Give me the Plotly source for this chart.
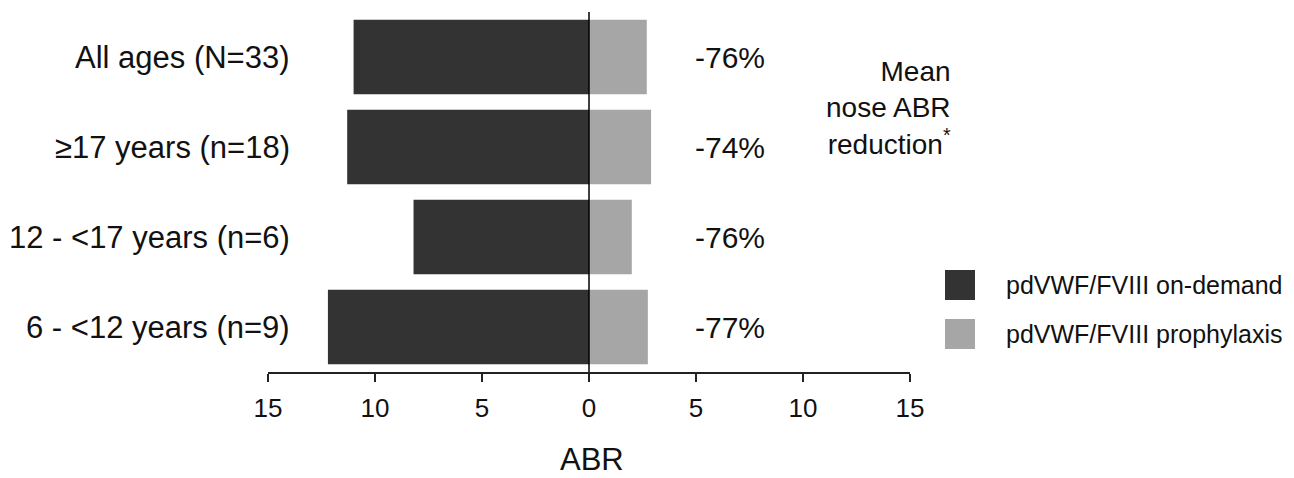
import plotly.graph_objects as go

categories = ["All ages (N=33)", "≥17 years (n=18)", "12 - <17 years (n=6)", "6 - <12 years (n=9)"]
on_demand = [11.0, 11.3, 8.2, 12.2]
prophylaxis = [2.7, 2.9, 2.0, 2.75]
reduction = ["-76%", "-74%", "-76%", "-77%"]
tick_vals = [-15, -10, -5, 0, 5, 10, 15]
tick_text = ["15", "10", "5", "0", "5", "10", "15"]
series_names = ["pdVWF/FVIII on-demand", "pdVWF/FVIII prophylaxis"]
colors = ["#333333", "#a6a6a6"]

FONT = "Arial, Liberation Sans, sans-serif"
TXT = "#111111"
cats_bu = categories[::-1]

# plot area in page pixels: x 268..910, y 12..372
PX0, PX1, PY0, PY1 = 268, 910, 12, 372
def px(xp):
    return (xp - PX0) / (PX1 - PX0)
def py(yp):
    return (PY1 - yp) / (PY1 - PY0)

fig = go.Figure()
fig.add_trace(go.Bar(y=cats_bu, x=[-v for v in on_demand[::-1]], orientation="h",
                     marker=dict(color=colors[0], line=dict(width=0)), name=series_names[0],
                     showlegend=False))
fig.add_trace(go.Bar(y=cats_bu, x=prophylaxis[::-1], orientation="h",
                     marker=dict(color=colors[1], line=dict(width=0)), name=series_names[1],
                     showlegend=False))

# category labels (they overlap into the plot area, so annotations)
for c in categories:
    fig.add_annotation(x=px(292), y=c, xref="paper", yref="y", text=c, showarrow=False,
                       xanchor="right", yanchor="middle",
                       font=dict(size=31, color=TXT, family=FONT))

# percentage labels
for c, r in zip(categories, reduction):
    fig.add_annotation(x=6.6, y=c, xref="x", yref="y", text=r, showarrow=False,
                       font=dict(size=30, color=TXT, family=FONT), xanchor="center")

# header text
fig.add_annotation(xref="paper", yref="paper", x=px(953), y=py(108),
                   text="Mean<br>nose ABR<br>reduction<sup>*</sup>", showarrow=False,
                   align="right", xanchor="right", yanchor="middle",
                   font=dict(size=28, color=TXT, family=FONT))

# axis title
fig.add_annotation(xref="paper", yref="paper", x=px(592), y=py(459), text="ABR",
                   showarrow=False, xanchor="center", yanchor="middle",
                   font=dict(size=31, color=TXT, family=FONT))

# zero line
fig.add_shape(type="line", xref="x", yref="paper", x0=0, x1=0, y0=0, y1=1,
              line=dict(color="black", width=1.5), layer="above")

# custom legend
for i, (nm, col) in enumerate(zip(series_names, colors)):
    yc = 285 + i * 49
    fig.add_shape(type="rect", xref="paper", yref="paper", x0=px(945), x1=px(975),
                  y0=py(yc + 15), y1=py(yc - 15), fillcolor=col, line=dict(width=0))
    fig.add_annotation(xref="paper", yref="paper", x=px(1004), y=py(yc),
                       text=nm, showarrow=False, xanchor="left", yanchor="middle",
                       font=dict(size=25, color=TXT, family=FONT))

fig.update_layout(
    width=1286, height=470,
    margin=dict(l=PX0 - 8, r=1294 - PX1, t=PY0 - 8, b=478 - PY1),
    paper_bgcolor="white", plot_bgcolor="white",
    barmode="relative", bargap=0.17,
    font=dict(family=FONT, color=TXT),
    xaxis=dict(range=[-15, 15], tickvals=tick_vals, ticktext=tick_text,
               showgrid=False, zeroline=False, showline=True, linecolor="#222222", linewidth=1.5,
               ticks="outside", ticklen=8, tickwidth=1.5, tickcolor="#222222",
               ticklabelstandoff=4,
               tickfont=dict(size=26, family=FONT, color=TXT)),
    yaxis=dict(range=[-0.5, 3.5], showgrid=False, zeroline=False, showline=False,
               ticks="", showticklabels=False),
)

fig.write_html("out.html")
